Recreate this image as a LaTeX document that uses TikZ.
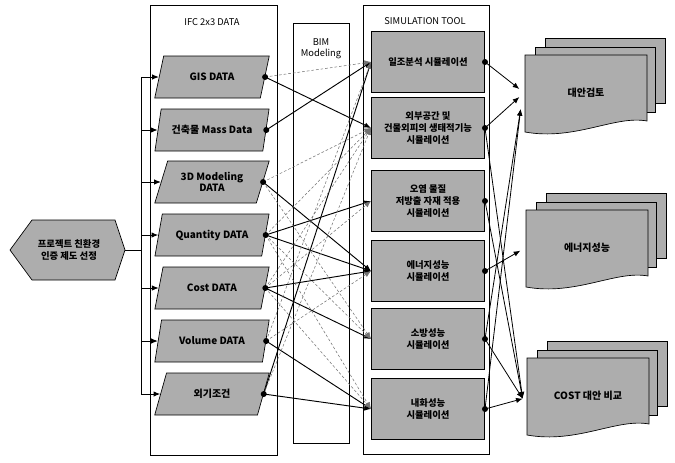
\documentclass[tikz,border=0pt]{standalone}
\usepackage{fontspec}
\setmainfont{Noto Sans CJK KR}
\usetikzlibrary{shapes.geometric,arrows.meta}
\tikzset{
  shade/.style={fill=black!32},
  databox/.style={trapezium,trapezium left angle=67,trapezium right angle=113,trapezium stretches=true,
    draw,shade,minimum width=86pt,minimum height=31.5pt,inner sep=1pt,align=center,font=\fontsize{7.5}{8.5}\selectfont\bfseries},
  simbox/.style={draw,shade,minimum width=85pt,minimum height=46pt,inner sep=1pt,align=center,font=\fontsize{7}{9}\selectfont\bfseries},
  frame/.style={draw,line width=0.6pt},
  link/.style={line width=0.7pt,-{Latex[length=5pt,width=4pt]}},
  weak/.style={black!55,line width=0.4pt,dash pattern=on 2pt off 1.5pt,-{Latex[length=5pt,width=4pt]}},
  result/.style={line width=0.6pt,-{Latex[length=5pt,width=4pt]}},
}
\newcommand{\pagestack}[4]{%
  \draw[shade] (#2+20,#3-17) rectangle ++(120,65);
  \draw[shade] (#2+10,#3-8) rectangle ++(120,65);
  \draw[shade] (#2,#3) -- ++(122,0) -- ++(0,66) .. controls (#2+90,#3+60) and (#2+50,#3+86) .. (#2,#3+77) -- cycle;
  \node[minimum width=91.5pt,minimum height=50pt,font=\fontsize{7.5}{9}\selectfont\bfseries] (#1) at (#2+61,#3+38) {#4};
}
\begin{document}
\begin{tikzpicture}[x=0.75pt,y=-0.75pt,line width=0.5pt,every node/.style={font=\fontsize{7}{8.5}\selectfont}]
\useasboundingbox (0,0) rectangle (675,462);
% frames
\draw[frame] (150,5) rectangle (277,455);
\draw[frame] (293,23) rectangle (349,443);
\draw[frame] (363,5) rectangle (489,454);
\node (ifctitle) at (212,22) {IFC 2x3 DATA};
\node[align=center] (bimtitle) at (321,49) {BIM\\Modeling};
\node (simtitle) at (425,21) {SIMULATION TOOL};
% project
\draw[shade] (10,250) -- (32,220) -- (115,220) -- (125,250) -- (115,280) -- (32,280) -- cycle;
\node[align=center,font=\fontsize{7}{9}\selectfont\bfseries] (proj) at (69,250) {프로젝트 친환경\\인증 제도 선정};
\coordinate (projtip) at (125,250);
\coordinate (bus) at (141,0);
% data
\node[databox] (gis) at (212,77) {GIS DATA};
\node[databox] (mass) at (212,130) {건축물 Mass Data};
\node[databox] (model) at (212,182) {3D Modeling\\DATA};
\node[databox] (qty) at (212,235) {Quantity DATA};
\node[databox] (cost) at (212,288) {Cost DATA};
\node[databox] (vol) at (212,341) {Volume DATA};
\node[databox] (ext) at (212,394) {외기조건};
\draw (projtip) -- (projtip -| bus);
\draw (gis.west -| bus) -- (ext.west -| bus);
\foreach \n in {gis,mass,model,qty,cost,vol,ext}
  \draw[link] (\n.west -| bus) -- (\n.west);
% simulation
\node[simbox] (sun) at (428,62) {일조분석 시뮬레이션};
\node[simbox] (eco) at (428,128) {외부공간 및\\건물외피의 생태적기능\\시뮬레이션};
\node[simbox] (voc) at (428,201) {오염 물질\\저방출 자재 적용\\시뮬레이션};
\node[simbox] (nrg) at (428,271) {에너지성능\\시뮬레이션};
\node[simbox] (fire) at (428,339) {소방성능\\시뮬레이션};
\node[simbox] (fr) at (428,409) {내화성능\\시뮬레이션};
% data to simulation
\foreach \a/\b in {gis/eco,mass/sun,ext/sun,model/nrg,qty/voc,qty/nrg,cost/nrg,cost/fire,vol/fr,ext/fr}
  \draw[link] (\a.east) -- (\b.west);
\foreach \a/\b in {gis/sun,model/eco,model/fire,qty/eco,qty/fire,qty/fr,cost/eco,cost/voc,cost/fr,vol/sun,vol/nrg,ext/eco}
  \draw[weak] (\a.east) -- (\b.west);
\foreach \n in {gis,mass,model,qty,cost,vol,ext}
  \fill (\n.east) circle (3);
% results
\pagestack{alt}{525}{55}{대안검토}
\pagestack{perf}{526}{210}{에너지성능}
\pagestack{cmp}{527}{358}{COST 대안 비교}
\draw[result] (sun.east) -- ([xshift=-4pt,yshift=3pt]alt.west);
\draw[result] (eco.east) -- ([xshift=-4pt,yshift=-3pt]alt.west);
\draw[result] (fire.east) -- ([xshift=-3pt,yshift=-12pt]alt.west);
\draw[result] (fr.east) -- ([xshift=-3pt,yshift=-12pt]alt.west);
\draw[result] (nrg.east) -- ([xshift=-4pt,yshift=-2pt]perf.west);
\draw[result] (eco.east) -- ([xshift=-3pt,yshift=-2pt]cmp.west);
\draw[result] (voc.east) -- ([xshift=-3pt,yshift=-2pt]cmp.west);
\draw[result] (fire.east) -- ([xshift=-3pt,yshift=-2pt]cmp.west);
\draw[result] (fr.east) -- ([xshift=-3pt,yshift=-2pt]cmp.west);
\foreach \n in {sun,eco,voc,nrg,fire,fr}
  \fill (\n.east) circle (3);
\end{tikzpicture}
\end{document}
